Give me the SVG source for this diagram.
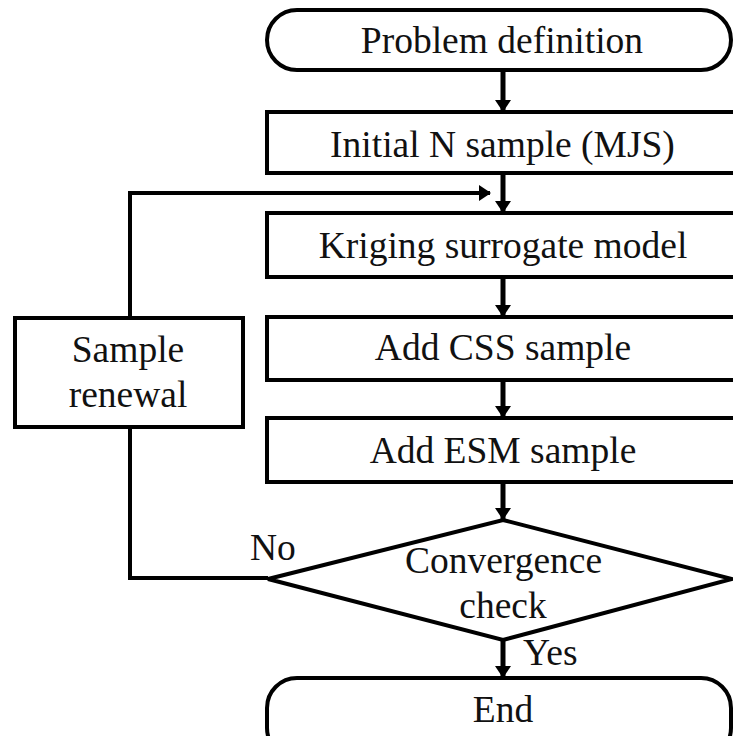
<svg xmlns="http://www.w3.org/2000/svg" width="733" height="736" viewBox="0 0 733 736">
<defs>
<marker id="ah" viewBox="0 0 12 16" refX="11" refY="8" markerWidth="12" markerHeight="16" markerUnits="userSpaceOnUse" orient="auto">
<path d="M0,0 L12,8 L0,16 Z" fill="#000"/>
</marker>
</defs>
<style>
.shape{fill:#fff;stroke:#000;stroke-width:4}
.t{text-anchor:middle}
.c{fill:none;stroke:#000;stroke-width:4}
.a{fill:none;stroke:#000;stroke-width:5;marker-end:url(#ah)}
</style>
<rect width="733" height="736" fill="#fff"/>
<g id="connectors">
<line class="a" x1="503" y1="72" x2="503" y2="111"/>
<line class="a" x1="503" y1="174" x2="503" y2="212"/>
<line class="a" x1="503" y1="278" x2="503" y2="316"/>
<line class="a" x1="503" y1="381" x2="503" y2="417"/>
<line class="a" x1="503" y1="483" x2="503" y2="519"/>
<line class="a" x1="503" y1="641" x2="503" y2="677"/>
<polyline class="c" points="268,578 130,578 130,427"/>
<polyline class="c" points="130,318 130,193 490,193" style="marker-end:url(#ah)"/>
</g>
<g font-family="'Liberation Serif', 'Times New Roman', 'DejaVu Serif', serif" font-size="37.5" fill="#111">
<g id="start">
<rect class="shape" x="267" y="10" width="464" height="60" rx="30" ry="30"/>
<text class="t" x="502" y="53">Problem definition</text>
</g>
<g id="initial">
<rect class="shape" x="267" y="112" width="480" height="61"/>
<text class="t" x="502.5" y="157">Initial N sample (MJS)</text>
</g>
<g id="kriging">
<rect class="shape" x="267" y="213" width="480" height="64"/>
<text class="t" x="503" y="258">Kriging surrogate model</text>
</g>
<g id="css">
<rect class="shape" x="267" y="317" width="480" height="63"/>
<text class="t" x="503" y="360">Add CSS sample</text>
</g>
<g id="esm">
<rect class="shape" x="267" y="418" width="480" height="64"/>
<text class="t" x="503" y="463">Add ESM sample</text>
</g>
<g id="renewal">
<rect class="shape" x="15" y="318" width="228" height="109"/>
<text class="t" x="128" y="362">Sample</text>
<text class="t" x="128" y="407">renewal</text>
</g>
<g id="check">
<polygon class="shape" points="503,520 732,579 503,640 268,579"/>
<text class="t" x="503.5" y="573">Convergence</text>
<text class="t" x="503" y="618">check</text>
<text x="250" y="560">No</text>
<text x="523" y="665">Yes</text>
</g>
<g id="end">
<rect class="shape" x="267" y="678" width="464" height="80" rx="30" ry="30"/>
<text class="t" x="503" y="722">End</text>
</g>
</g>
</svg>
